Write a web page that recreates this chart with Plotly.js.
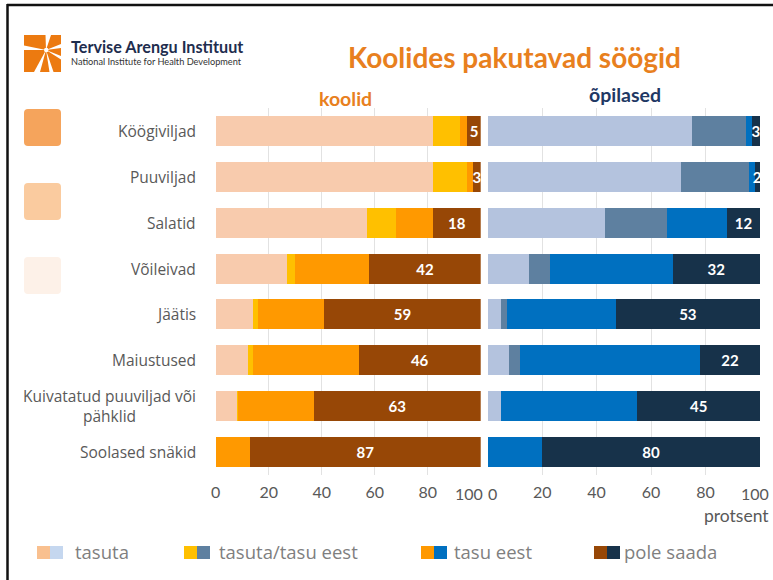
<!DOCTYPE html>
<html>
<head>
<meta charset="utf-8">
<script src="https://cdn.plot.ly/plotly-3.0.1.min.js"></script>
<style>html,body{margin:0;padding:0;background:#fff;}#chart{width:773px;height:580px;}</style>
</head>
<body>
<div id="chart"></div>
<script>
// ---------- data ----------
const categories = ["Köögiviljad", "Puuviljad", "Salatid", "Võileivad", "Jäätis", "Maiustused", "Kuivatatud puuviljad või<br>pähklid", "Soolased snäkid"];
const seriesNames = ["tasuta", "tasuta/tasu eest", "tasu eest", "pole saada"];
const koolidTasuta      = [82, 82, 57, 27, 14, 12, 8, 0];
const koolidTasutaTasu  = [10, 13, 11, 3, 2, 2, 0.5, 0];
const koolidTasuEest    = [3, 2, 14, 28, 25, 40, 28.5, 13];
const koolidPoleSaada   = [5, 3, 18, 42, 59, 46, 63, 87];
const opilasedTasuta     = [75, 71, 43, 15, 5, 8, 5, 0];
const opilasedTasutaTasu = [20, 25, 23, 8, 2, 4, 0, 0];
const opilasedTasuEest   = [2, 2, 22, 45, 40, 66, 50, 20];
const opilasedPoleSaada  = [3, 2, 12, 32, 53, 22, 45, 80];
const tickVals = [0, 20, 40, 60, 80, 100];
const tickLabels = ["0", "20", "40", "60", "80", "100"];
const titleText = "Koolides pakutavad söögid";
const panelTitles = ["koolid", "õpilased"];
const axisUnit = "protsent";
const orgName = "Tervise Arengu Instituut";
const orgNameEn = "National Institute for Health Development";

// ---------- styles ----------
const koolidColors = ["#F8CBAD", "#FFC000", "#FF9900", "#974706"];
const opilasedColors = ["#B4C3DE", "#5E80A0", "#0070C0", "#17324A"];
const legendLeftColors = ["#F9C08F", "#FFC000", "#FF9900", "#974706"];
const legendRightColors = ["#C5D7EF", "#5E80A0", "#0070C0", "#17324A"];
const FONT = "Lato, 'Open Sans', 'DejaVu Sans', sans-serif";
const FONT2 = "'Open Sans', Lato, 'DejaVu Sans', sans-serif";
const GREY = "#595959";

const W = 773, H = 580;
const px = x => x / W;
const py = y => 1 - y / H;

const koolidData = [koolidTasuta, koolidTasutaTasu, koolidTasuEest, koolidPoleSaada];
const opilasedData = [opilasedTasuta, opilasedTasutaTasu, opilasedTasuEest, opilasedPoleSaada];

const traces = [];
function addPanel(dataSets, colors, xa, ya) {
  dataSets.forEach((vals, i) => {
    const isLast = i === dataSets.length - 1;
    traces.push({
      type: "bar", orientation: "h",
      y: categories, x: vals,
      name: seriesNames[i],
      xaxis: xa, yaxis: ya,
      marker: { color: colors[i], line: { width: 0 } },
      text: isLast ? vals.map(v => String(v)) : undefined,
      textposition: isLast ? "inside" : "none",
      insidetextanchor: "middle",
      constraintext: "none",
      textfont: { family: FONT, size: 15, color: "#FFFFFF", weight: "bold" },
      hoverinfo: "none",
      cliponaxis: false
    });
  });
}
addPanel(koolidData, koolidColors, "x", "y");
addPanel(opilasedData, opilasedColors, "x2", "y2");

const yDomain = [py(474.6), py(108.4)];
const xCommon = {
  range: [0, 100], tickvals: tickVals, tickmode: "array", showgrid: true, gridcolor: "#E2E2E2", gridwidth: 1,
  zeroline: false, showline: false, ticks: "", fixedrange: true, ticklabelstandoff: 6,
  tickfont: { family: FONT, size: 16, color: GREY }
};
const yCommon = {
  type: "category", autorange: "reversed", showticklabels: false, showgrid: false,
  zeroline: false, showline: false, ticks: "", fixedrange: true
};

const annotations = [];
// category labels
categories.forEach(c => {
  annotations.push({ text: c, x: px(198), xref: "paper", xanchor: "right", y: c, yref: "y",
    yanchor: "middle", align: "center", showarrow: false,
    font: { family: FONT2, size: 15.5, color: GREY } });
});
// edge tick labels
const edgeTickY = py(493);
annotations.push({ text: tickLabels[5], x: tickVals[5], xref: "x", xshift: -12, y: edgeTickY, yref: "paper",
  yanchor: "middle", showarrow: false, font: { family: FONT, size: 16, color: GREY } });
annotations.push({ text: tickLabels[0], x: tickVals[0], xref: "x2", xshift: 5, y: edgeTickY, yref: "paper",
  yanchor: "middle", showarrow: false, font: { family: FONT, size: 16, color: GREY } });
annotations.push({ text: tickLabels[5], x: tickVals[5], xref: "x2", xanchor: "right", xshift: 11, y: edgeTickY, yref: "paper",
  yanchor: "middle", showarrow: false, font: { family: FONT, size: 16, color: GREY } });
// unit
annotations.push({ text: axisUnit, x: px(771), xref: "paper", xanchor: "right", y: py(515), yref: "paper",
  yanchor: "middle", showarrow: false, font: { family: FONT, size: 17.5, color: GREY } });
// titles
annotations.push({ text: "<b>" + titleText + "</b>", x: px(514), xref: "paper", xanchor: "center", y: py(57), yref: "paper",
  yanchor: "middle", showarrow: false, font: { family: FONT, size: 28, color: "#E8801E" } });
annotations.push({ text: "<b>" + panelTitles[0] + "</b>", x: px(345), xref: "paper", xanchor: "center", y: py(98), yref: "paper",
  yanchor: "middle", showarrow: false, font: { family: FONT, size: 19.5, color: "#E8801E" } });
annotations.push({ text: "<b>" + panelTitles[1] + "</b>", x: px(625), xref: "paper", xanchor: "center", y: py(94), yref: "paper",
  yanchor: "middle", showarrow: false, font: { family: FONT, size: 19.5, color: "#1F3864" } });
// logo text
annotations.push({ text: "<b>" + orgName + "</b>", x: px(69), xref: "paper", xanchor: "left", y: py(46), yref: "paper",
  yanchor: "middle", showarrow: false, font: { family: FONT, size: 16.2, color: "#1E2D4E" } });
annotations.push({ text: orgNameEn, x: px(69), xref: "paper", xanchor: "left", y: py(62), yref: "paper",
  yanchor: "middle", showarrow: false, font: { family: FONT, size: 9.2, color: "#333333" } });

// legend
const legendSwatchX = [37, 184, 421, 594];
const legendTextX = [73, 217, 452, 622];
const shapes = [];
seriesNames.forEach((n, i) => {
  const x0 = legendSwatchX[i];
  shapes.push({ type: "rect", xref: "paper", yref: "paper", x0: px(x0), x1: px(x0 + 13), y0: py(559), y1: py(546),
    fillcolor: legendLeftColors[i], line: { width: 0 } });
  shapes.push({ type: "rect", xref: "paper", yref: "paper", x0: px(x0 + 13), x1: px(x0 + 26), y0: py(559), y1: py(546),
    fillcolor: legendRightColors[i], line: { width: 0 } });
  annotations.push({ text: n, x: px(legendTextX[i]), xref: "paper", xanchor: "left", y: py(551), yref: "paper",
    yanchor: "middle", showarrow: false, font: { family: FONT2, size: 18.5, color: "#7F7F7F" } });
});

// frame
shapes.push({ type: "line", xref: "paper", yref: "paper", x0: px(7), x1: px(773), y0: py(5), y1: py(5), line: { color: "#111", width: 2.5 } });
shapes.push({ type: "line", xref: "paper", yref: "paper", x0: px(7.5), x1: px(7.5), y0: py(4), y1: py(580), line: { color: "#111", width: 2.5 } });

// decorative rounded squares
function roundRect(x0, y0, x1, y1, r) {
  const P = (x, y) => px(x) + "," + py(y);
  return "M" + P(x0 + r, y0) + " L" + P(x1 - r, y0) + " Q" + P(x1, y0) + " " + P(x1, y0 + r) +
    " L" + P(x1, y1 - r) + " Q" + P(x1, y1) + " " + P(x1 - r, y1) +
    " L" + P(x0 + r, y1) + " Q" + P(x0, y1) + " " + P(x0, y1 - r) +
    " L" + P(x0, y0 + r) + " Q" + P(x0, y0) + " " + P(x0 + r, y0) + " Z";
}
[["#F5A45C", 109], ["#FACB9F", 183], ["#FDF1E8", 257]].forEach(([c, y]) => {
  shapes.push({ type: "path", xref: "paper", yref: "paper", path: roundRect(24, y, 61, y + 37, 4), fillcolor: c, line: { width: 0 } });
});

// logo
function poly(pts) {
  return "M" + pts.map(p => px(p[0]) + "," + py(p[1])).join(" L") + " Z";
}
shapes.push({ type: "rect", xref: "paper", yref: "paper", x0: px(24), x1: px(61), y0: py(72), y1: py(35), fillcolor: "#EC7A10", line: { width: 0 } });
const C = [46, 50];
const rays = [
  [[45.5, 35], [51, 35]],
  [[24, 45.5], [24, 50]],
  [[61, 44], [61, 48]],
  [[34, 72], [40, 72]],
  [[49.5, 72], [53.5, 72]],
  [[61, 56], [61, 59.5]]
];
rays.forEach(r => {
  shapes.push({ type: "path", xref: "paper", yref: "paper", path: poly([C, r[0], r[1]]), fillcolor: "#FFFFFF", line: { width: 0 } });
});
shapes.push({ type: "circle", xref: "paper", yref: "paper", x0: px(44), x1: px(48.5), y0: py(52.3), y1: py(47.8), fillcolor: "#FFFFFF", line: { width: 0 } });

const layout = {
  width: W, height: H, autosize: false,
  margin: { l: 0, r: 0, t: 0, b: 0, pad: 0 },
  paper_bgcolor: "#FFFFFF", plot_bgcolor: "rgba(0,0,0,0)",
  barmode: "stack", bargap: 0.34, showlegend: false,
  font: { family: FONT, color: GREY },
  xaxis: Object.assign({}, xCommon, { domain: [px(215.7), px(480.7)], anchor: "y",
    ticktext: ["0", "20", "40", "60", "80", ""] }),
  xaxis2: Object.assign({}, xCommon, { domain: [px(487.7), px(760)], anchor: "y2",
    ticktext: ["", "20", "40", "60", "80", ""] }),
  yaxis: Object.assign({}, yCommon, { domain: yDomain, anchor: "x" }),
  yaxis2: Object.assign({}, yCommon, { domain: yDomain, anchor: "x2" }),
  annotations: annotations,
  shapes: shapes
};

Plotly.newPlot("chart", traces, layout, { displayModeBar: false, staticPlot: true });
</script>
</body>
</html>
